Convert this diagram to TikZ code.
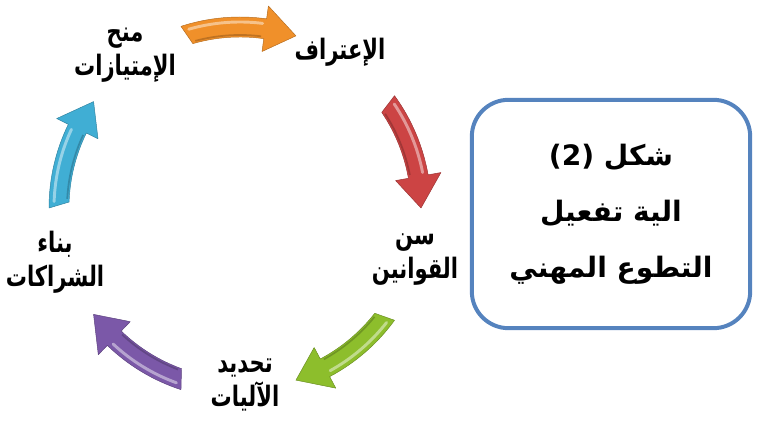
\documentclass[tikz,border=0pt]{standalone}
\usepackage{fontspec}
\usepackage{tikz}
\newfontfamily\arabicfont[Script=Arabic]{DejaVu Sans}
\newfontfamily\labelfont[Script=Arabic, FakeStretch=0.75]{DejaVu Sans}
\TeXXeTstate=1
\definecolor{arrorange}{HTML}{F0902A}
\definecolor{arrred}{HTML}{CC4444}
\definecolor{arrgreen}{HTML}{8DBE2C}
\definecolor{arrpurple}{HTML}{7B58A8}
\definecolor{arrcyan}{HTML}{40AED4}
\definecolor{boxblue}{HTML}{5583BE}

\begin{document}
\begin{tikzpicture} [
				x=0.03cm, y=0.03cm,
				cyclelabel/.style={font=\labelfont\bfseries\fontsize{24}{29}\selectfont, align=center, inner sep=0pt},
				captionbox/.style={draw=boxblue, line width=3.4pt, rounded corners=1.1cm, minimum width=8.35cm, minimum height=6.85cm, align=center, font=\arabicfont\bfseries\fontsize{24}{48}\selectfont},
				arrowbody/.style={line width=0.4pt, line join=round}
			]
			\useasboundingbox (0,0) rectangle (765,420);
			\coordinate (cyc) at (240,212);
			% the five steps of the cycle
			\node[cyclelabel] (grant) at (125,365) {\beginR منح\endR\\ \beginR الإمتيازات\endR};
			\node[cyclelabel] (recog) at (340,368) {\beginR الإعتراف\endR};
			\node[cyclelabel] (laws) at (415,160) {\beginR سن\endR\\ \beginR القوانين\endR};
			\node[cyclelabel] (mech) at (245,35) {\beginR تحديد\endR\\ \beginR الآليات\endR};
			\node[cyclelabel] (partner) at (55,158) {\beginR بناء\endR\\ \beginR الشراكات\endR};
			% curved arrows between the steps
			\foreach \ang/\col in {90/arrorange, 18/arrred, -54/arrgreen, -126/arrpurple, 162/arrcyan} {
				\begin{scope}[shift={(cyc)}]
					\filldraw[arrowbody, fill=\col, draw=\col!75!black] (\ang+18:191) arc[start angle=\ang+18, end angle=\ang-8, radius=191]
						-- (\ang-8:204) -- (\ang-18:181) -- (\ang-8:158) -- (\ang-8:171)
						arc[start angle=\ang-8, end angle=\ang+16, radius=171] -- cycle;
					\draw[white, opacity=.45, line width=2.5pt, line cap=round] (\ang+16:186) arc[start angle=\ang+16, end angle=\ang-7, radius=186];
					\draw[\col!60!black, opacity=.5, line width=1.5pt] (\ang+15:173) arc[start angle=\ang+15, end angle=\ang-7, radius=173];
				\end{scope}
			}
			% caption box
			\node[captionbox] (caption) at (611,206) {(2) \beginR شكل\endR\\ \beginR الية تفعيل\endR\\ \beginR التطوع المهني\endR};
		\end{tikzpicture}
\end{document}
